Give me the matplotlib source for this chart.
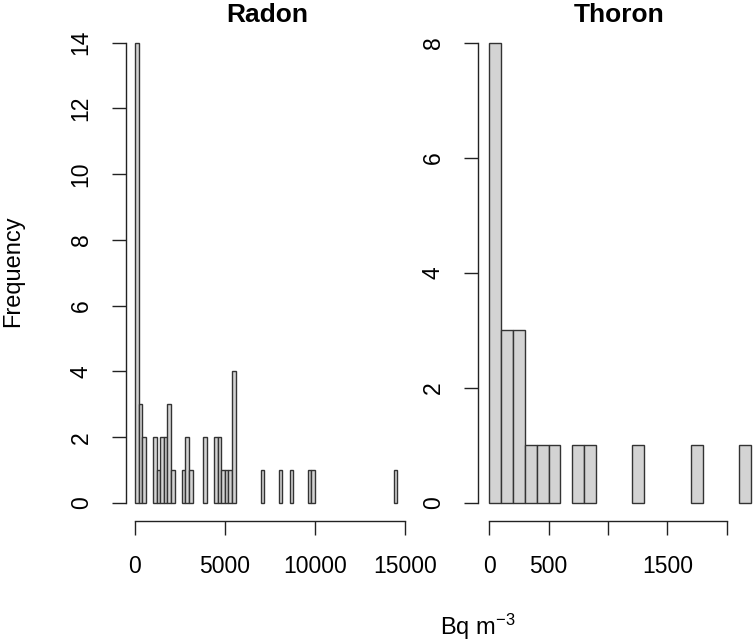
import numpy as np
import matplotlib
matplotlib.use("Agg")
import matplotlib.pyplot as plt

plt.rcParams['font.family'] = ['Liberation Sans', 'DejaVu Sans']
plt.rcParams['mathtext.default'] = 'regular'

# Radon: histograma, bins de 200 Bq m-3 (solo bins no vacios)
radon_left = [0, 200, 400, 1000, 1200, 1400, 1600, 1800, 2000, 2600, 2800, 3000,
              3800, 4400, 4600, 4800, 5000, 5200, 5400, 7000, 8000, 8600, 9600,
              9800, 14400]
radon_counts = [14, 3, 2, 2, 1, 2, 2, 3, 1, 1, 2, 1,
                2, 2, 2, 1, 1, 1, 4, 1, 1, 1, 1,
                1, 1]
radon_bin = 200
radon_xticks = [0, 5000, 10000, 15000]
radon_yticks = [0, 2, 4, 6, 8, 10, 12, 14]

# Thoron: bins de 100 Bq m-3
thoron_left = [0, 100, 200, 300, 400, 500, 700, 800, 1200, 1700, 2100]
thoron_counts = [8, 3, 3, 1, 1, 1, 1, 1, 1, 1, 1]
thoron_bin = 100
thoron_xticks = [0, 500, 1000, 1500, 2000]
thoron_xlabels = ["0", "500", "", "1500", ""]
thoron_yticks = [0, 2, 4, 6, 8]

W, H = 754, 641
fig = plt.figure(figsize=(W / 100, H / 100), dpi=100)


def px_axes(x0, x1, y0, y1):
    # y0 = arriba, y1 = abajo (pixeles)
    return fig.add_axes([x0 / W, 1 - y1 / H, (x1 - x0) / W, (y1 - y0) / H])


def estilo_r(ax, xticks, yticks, xlabels=None):
    for s in ["top", "right"]:
        ax.spines[s].set_visible(False)
    ax.spines["left"].set_bounds(yticks[0], yticks[-1])
    ax.spines["bottom"].set_bounds(xticks[0], xticks[-1])
    for s in ["left", "bottom"]:
        ax.spines[s].set_linewidth(1.0)
        ax.spines[s].set_color("#222222")
    ax.set_xticks(xticks)
    if xlabels is not None:
        ax.set_xticklabels(xlabels)
    ax.set_yticks(yticks)
    ax.tick_params(length=10, width=1.0, color="#222222", labelsize=16.5, pad=15)
    ax.tick_params(axis="y", labelrotation=90, pad=14)
    for lab in ax.get_yticklabels():
        lab.set_va("center")


# Radon
ax1 = px_axes(126, 408, 24.3, 520.7)
ax1.bar(radon_left, radon_counts, width=radon_bin, align="edge",
        facecolor="#d3d3d3", edgecolor="#333333", linewidth=1.0)
ax1.set_xlim(-500, 15184)
ax1.set_ylim(-0.538, 14.56)
estilo_r(ax1, radon_xticks, radon_yticks)

# Thoron
ax2 = px_axes(478.3, 760.3, 24.3, 520.7)
ax2.bar(thoron_left, thoron_counts, width=thoron_bin, align="edge",
        facecolor="#d3d3d3", edgecolor="#333333", linewidth=1.0)
ax2.set_xlim(-90, 2280)
ax2.set_ylim(-0.308, 8.32)
estilo_r(ax2, thoron_xticks, thoron_yticks, thoron_xlabels)

fig.text(267 / W, 1 - 21.7 / H, "Radon", ha="center", va="baseline",
         fontsize=19, fontweight="bold")
fig.text(619 / W, 1 - 21.7 / H, "Thoron", ha="center", va="baseline",
         fontsize=19, fontweight="bold")
fig.text(13 / W, 1 - 271.5 / H, "Frequency", rotation=90, ha="center",
         va="center", fontsize=17)
fig.text(478 / W, 1 - 635 / H, "Bq m$^{-3}$", ha="center", va="baseline",
         fontsize=17)

fig.savefig("out.png", dpi=100)
